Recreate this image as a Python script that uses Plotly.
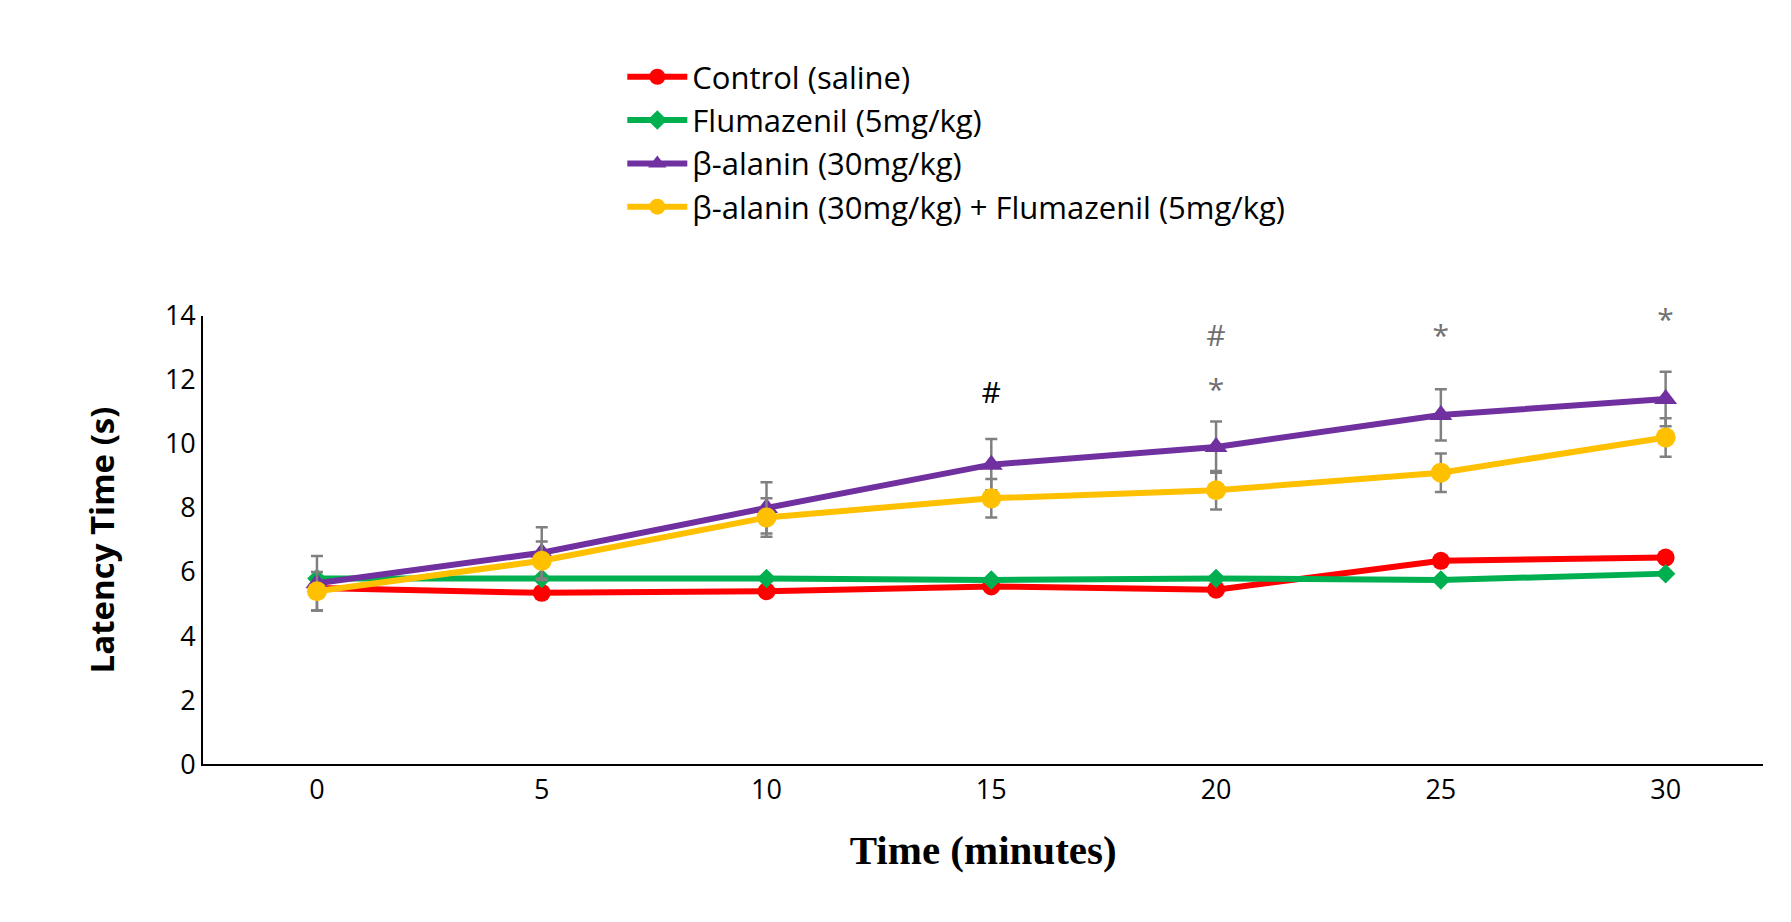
import plotly.graph_objects as go

time_min = [0, 5, 10, 15, 20, 25, 30]
control = [5.5, 5.35, 5.4, 5.55, 5.45, 6.35, 6.45]
flumazenil = [5.8, 5.8, 5.8, 5.75, 5.8, 5.75, 5.95]
beta = [5.65, 6.6, 8.0, 9.35, 9.9, 10.9, 11.4]
beta_err = [0.85, 0.8, 0.8, 0.8, 0.8, 0.8, 0.85]
combo = [5.4, 6.35, 7.7, 8.3, 8.55, 9.1, 10.2]
combo_err = [0.6, 0.6, 0.6, 0.6, 0.6, 0.6, 0.6]

# significance marks
mark_x = [15, 20, 20, 25, 25, 30]
mark_y = [11.5, 11.6, 13.3, 13.3, 14.7, 13.8]
mark_text = ["#", "*", "#", "*", "#", "*"]
mark_color = ["black", "#707070", "#707070", "#707070", "#707070", "#707070"]

fig = go.Figure()
fig.add_trace(go.Scatter(x=time_min, y=control, name="Control (saline)", mode="lines+markers",
                         line=dict(color="#ff0000", width=6), marker=dict(symbol="circle", size=18)))
fig.add_trace(go.Scatter(x=time_min, y=flumazenil, name="Flumazenil (5mg/kg)", mode="lines+markers",
                         line=dict(color="#00b050", width=6), marker=dict(symbol="diamond", size=15)))
fig.add_trace(go.Scatter(x=time_min, y=beta, name="β-alanin (30mg/kg)", mode="lines+markers",
                         line=dict(color="#7030a0", width=6), marker=dict(symbol="triangle-up", size=20),
                         error_y=dict(array=beta_err, color="#808080", thickness=2.5, width=6)))
fig.add_trace(go.Scatter(x=time_min, y=combo, name="β-alanin (30mg/kg) + Flumazenil (5mg/kg)",
                         mode="lines+markers",
                         line=dict(color="#ffc000", width=6), marker=dict(symbol="circle", size=20),
                         error_y=dict(array=combo_err, color="#808080", thickness=2.5, width=6)))
fig.add_trace(go.Scatter(x=mark_x, y=mark_y, text=mark_text, mode="text", showlegend=False,
                         cliponaxis=False, hoverinfo="skip",
                         textfont=dict(size=30, color=mark_color, family="Open Sans")))

fig.update_layout(
    width=1791, height=922, margin=dict(l=0, r=0, t=0, b=0),
    plot_bgcolor="white", paper_bgcolor="white",
    font=dict(family="Open Sans", color="black"),
    legend=dict(x=0.343, y=0.975, xanchor="left", yanchor="top", font=dict(size=31),
                tracegroupgap=0, itemwidth=60),
    xaxis=dict(domain=[0.109, 0.98], range=[-2.53, 32.17], tickvals=time_min,
               showline=True, linecolor="black", linewidth=2, showgrid=False, zeroline=False,
               ticks="", tickfont=dict(size=27),
               title=dict(text="<b>Time (minutes)</b>", standoff=30,
                          font=dict(family="Liberation Serif", size=41))),
    yaxis=dict(domain=[0.168, 0.675], range=[0, 14], dtick=2,
               showline=True, linecolor="black", linewidth=2, showgrid=False, zeroline=False,
               ticks="", tickfont=dict(size=27),
               title=dict(text="<b>Latency Time (s)</b>", standoff=40, font=dict(size=33))),
)

fig.write_html("out.html")
